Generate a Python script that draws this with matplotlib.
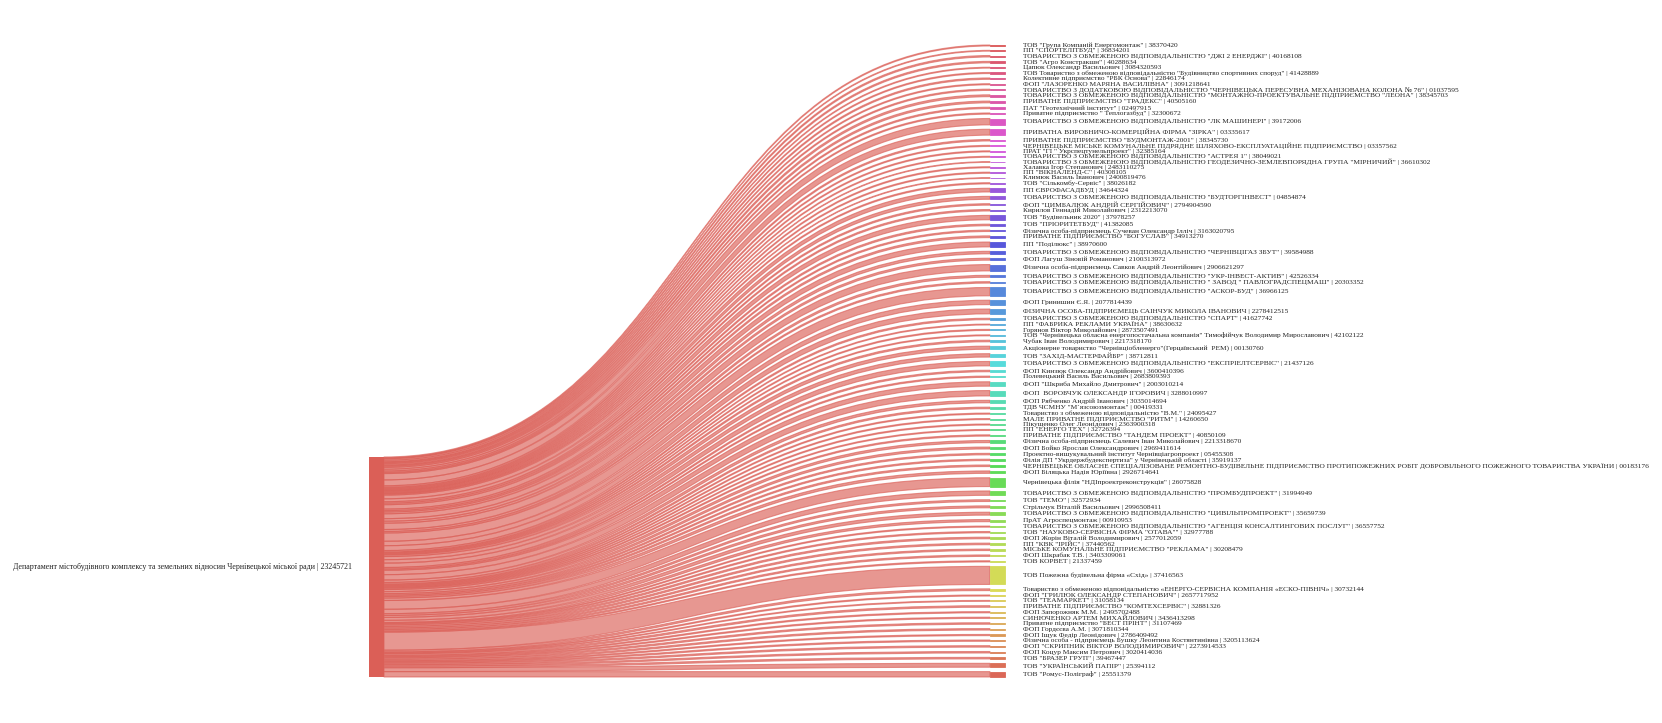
import matplotlib
matplotlib.use("Agg")
import matplotlib.pyplot as plt
from matplotlib.path import Path
from matplotlib.patches import PathPatch, Rectangle
import seaborn as sns

source = "Департамент містобудівного комплексу та земельних відносин Чернівецької міської ради | 23245721"

targets = [
    'ТОВ "Група Компаній Енергомонтаж" | 38370420',
    'ПП "СПОРТЕЛІТБУД" | 36834201',
    'ТОВАРИСТВО З ОБМЕЖЕНОЮ ВІДПОВІДАЛЬНІСТЮ "ДЖІ 2 ЕНЕРДЖІ" | 40168108',
    'ТОВ "Агро Констракшн" | 40288634',
    'Цапюк Олександр Васильович | 3084320593',
    'ТОВ Товариство з обмеженою відповідальністю "Будівництво спортивних споруд" | 41428889',
    'Колективне підприємство "РБК Основа" | 22846174',
    'ФОП "ЛАЗОРЕНКО МАРЯНА ВАСИЛІВНА" | 3091218641',
    'ТОВАРИСТВО З ДОДАТКОВОЮ ВІДПОВІДАЛЬНІСТЮ "ЧЕРНІВЕЦЬКА ПЕРЕСУВНА МЕХАНІЗОВАНА КОЛОНА № 76" | 01037595',
    'ТОВАРИСТВО З ОБМЕЖЕНОЮ ВІДПОВІДАЛЬНІСТЮ "МОНТАЖНО-ПРОЕКТУВАЛЬНЕ ПІДПРИЄМСТВО "ЛЕОНА" | 38345703',
    'ПРИВАТНЕ ПІДПРИЄМСТВО "ТРАДЕКС" | 40505160',
    'ПАТ "Геотехнічний інститут" | 02497915',
    'Приватне підприємство " Теплогазбуд" | 32300672',
    'ТОВАРИСТВО З ОБМЕЖЕНОЮ ВІДПОВІДАЛЬНІСТЮ "ЛК МАШИНЕРІ" | 39172006',
    'ПРИВАТНА ВИРОБНИЧО-КОМЕРЦІЙНА ФІРМА "ЗІРКА" | 03335617',
    'ПРИВАТНЕ ПІДПРИЄМСТВО "БУДМОНТАЖ-2001" | 38345730',
    'ЧЕРНІВЕЦЬКЕ МІСЬКЕ КОМУНАЛЬНЕ ПІДРЯДНЕ ШЛЯХОВО-ЕКСПЛУАТАЦІЙНЕ ПІДПРИЄМСТВО | 03357562',
    'ПРАТ "ГІ " Укрспецтунельпроект" | 32385164',
    'ТОВАРИСТВО З ОБМЕЖЕНОЮ ВІДПОВІДАЛЬНІСТЮ "АСТРЕЯ 1" | 38049021',
    'ТОВАРИСТВО З ОБМЕЖЕНОЮ ВІДПОВІДАЛЬНІСТЮ ГЕОДЕЗИЧНО-ЗЕМЛЕВПОРЯДНА ГРУПА "МІРНИЧИЙ" | 36610302',
    'Халавка Ігор Степанович | 2483110275',
    'ПП "ВІКНАЛЕНД-С" | 40308105',
    'Климюк Василь Іванович | 2400819476',
    'ТОВ "Сількомбу-Сервіс" | 38026182',
    'ПП ЄВРОФАСАДБУД | 34644324',
    'ТОВАРИСТВО З ОБМЕЖЕНОЮ ВІДПОВІДАЛЬНІСТЮ "БУДТОРГІНВЕСТ" | 04854874',
    'ФОП "ЦИМБАЛЮК АНДРІЙ СЕРГІЙОВИЧ" | 2794904590',
    'Кирилов Геннадій Миколайович | 2312213070',
    'ТОВ "Будівельник 2020" | 37978257',
    'ТОВ "ПРІОРИТЕТБУД" | 41382085',
    'Фізична особа-підприємець Сучеван Олександр Ілліч | 3163020795',
    'ПРИВАТНЕ ПІДПРИЄМСТВО "БОГУСЛАВ" | 34913270',
    'ПП "Поділюкс" | 38970600',
    'ТОВАРИСТВО З ОБМЕЖЕНОЮ ВІДПОВІДАЛЬНІСТЮ "ЧЕРНІВЦІГАЗ ЗБУТ" | 39584988',
    'ФОП Лагуш Зіновій Романович | 2100313972',
    'Фізична особа-підприємець Савков Андрій Леонтійович | 2906621297',
    'ТОВАРИСТВО З ОБМЕЖЕНОЮ ВІДПОВІДАЛЬНІСТЮ "УКР-ІНВЕСТ-АКТИВ" | 42526334',
    'ТОВАРИСТВО З ОБМЕЖЕНОЮ ВІДПОВІДАЛЬНІСТЮ " ЗАВОД " ПАВЛОГРАДСПЕЦМАШ" | 20303352',
    'ТОВАРИСТВО З ОБМЕЖЕНОЮ ВІДПОВІДАЛЬНІСТЮ "АСКОР-БУД" | 36966125',
    'ФОП Гринишин Є.Я. | 2077814439',
    'ФІЗИЧНА ОСОБА-ПІДПРИЄМЕЦЬ САІНЧУК МИКОЛА ІВАНОВИЧ | 2278412515',
    'ТОВАРИСТВО З ОБМЕЖЕНОЮ ВІДПОВІДАЛЬНІСТЮ "СПАРТ" | 41627742',
    'ПП "ФАБРИКА РЕКЛАМИ УКРАЇНА" | 38630632',
    'Горянов Віктор Миколайович | 2873507491',
    'ТОВ "Чернівецька обласна енергопостачальна компанія" Тимофійчук Володимир Мирославович | 42102122',
    'Чубак Іван Володимирович | 2217318170',
    'Акціонерне товариство "Чернівціобленерго"(Герцаївський  РЕМ) | 00130760',
    'ТОВ "ЗАХІД-МАСТЕРФАЙБР" | 38712811',
    'ТОВАРИСТВО З ОБМЕЖЕНОЮ ВІДПОВІДАЛЬНІСТЮ "ЕКСПРІЕЛТСЕРВІС" | 21437126',
    'ФОП Кинзюк Олександр Андрійович | 3600410396',
    'Полевецький Василь Васильович | 2683809393',
    'ФОП "Шкриба Михайло Дмитрович" | 2003010214',
    'ФОП  ВОРОБЧУК ОЛЕКСАНДР ІГОРОВИЧ | 3288010997',
    'ФОП Рябченко Андрій Іванович | 3035014694',
    'ТДВ ЧСМНУ "М`язсоюзмонтаж" | 00419331',
    'Товариство з обмеженою відповідальністю "В.М." | 24095427',
    'МАЛЕ ПРИВАТНЕ ПІДПРИЄМСТВО "РИТМ" | 14260650',
    'Пікущенко Олег Леонідович | 2363900318',
    'ПП "ЕНЕРГО ТЕХ" | 32726394',
    'ПРИВАТНЕ ПІДПРИЄМСТВО "ТАНДЕМ ПРОЕКТ" | 40850109',
    'Фізична особа-підприємець Салевич Іван Миколайович | 2213318670',
    'ФОП Бойко Ярослав Олександрович | 2969411614',
    'Проектно-вишукувальний інститут Чернівціагропроект | 05455308',
    'Філія ДП "Укрдержбудекспертиза" у Чернівецькій області | 35919137',
    'ЧЕРНІВЕЦЬКЕ ОБЛАСНЕ СПЕЦІАЛІЗОВАНЕ РЕМОНТНО-БУДІВЕЛЬНЕ ПІДПРИЄМСТВО ПРОТИПОЖЕЖНИХ РОБІТ ДОБРОВІЛЬНОГО ПОЖЕЖНОГО ТОВАРИСТВА УКРАЇНИ | 00183176',
    'ФОП Біляцька Надія Юріївна | 2926714641',
    'Чернівецька філія "НДІпроектреконструкція" | 26075828',
    'ТОВАРИСТВО З ОБМЕЖЕНОЮ ВІДПОВІДАЛЬНІСТЮ "ПРОМБУДПРОЕКТ" | 31994949',
    'ТОВ "ТЕМО" | 32572934',
    'Стрільчук Віталій Васильович | 2996508411',
    'ТОВАРИСТВО З ОБМЕЖЕНОЮ ВІДПОВІДАЛЬНІСТЮ "ЦИВІЛЬПРОМПРОЕКТ" | 35659739',
    'ПрАТ Агроспецмонтаж | 00910953',
    'ТОВАРИСТВО З ОБМЕЖЕНОЮ ВІДПОВІДАЛЬНІСТЮ "АГЕНЦІЯ КОНСАЛТИНГОВИХ ПОСЛУГ" | 36557752',
    'ТОВ "НАУКОВО-СЕРВІСНА ФІРМА "ОТАВА"" | 32977788',
    'ФОП Жорін Віталій Володимирович | 2577012059',
    'ПП "КВК "ІРІЙС" | 37440562',
    'МІСЬКЕ КОМУНАЛЬНЕ ПІДПРИЄМСТВО "РЕКЛАМА" | 30208479',
    'ФОП Шкрабак Т.В. | 3403309061',
    'ТОВ КОРВЕТ | 21337459',
    'ТОВ Пожежна будівельна фірма «Схід» | 37416563',
    'Товариство з обмеженою відповідальністю «ЕНЕРГО-СЕРВІСНА КОМПАНІЯ «ЕСКО-ПІВНІЧ» | 30732144',
    'ФОП "ГРИЛЮК ОЛЕКСАНДР СТЕПАНОВИЧ" | 2657717952',
    'ТОВ "ТЕАМАРКЕТ" | 31058134',
    'ПРИВАТНЕ ПІДПРИЄМСТВО "КОМТЕХСЕРВІС" | 32881326',
    'ФОП Запорожняк М.М. | 2495702488',
    'СИНЮЧЕНКО АРТЕМ МИХАЙЛОВИЧ | 3436413298',
    'Приватне підприємство "БЕСТ ПРІНТ" | 31107469',
    'ФОП Гордєєва А.М. | 3071810344',
    'ФОП Іщук Федір Леонідович | 2786409492',
    'Фізична особа - підприємець Бушку Леонтина Костянтинівна | 3205113624',
    'ФОП "СКРИПНИК ВІКТОР ВОЛОДИМИРОВИЧ" | 2273914533',
    'ФОП Коцур Максим Петрович | 3020414036',
    'ТОВ "БРАЗЕР ГРУП" | 39467447',
    'ТОВ "УКРАЇНСЬКИЙ ПАПІР" | 25394112',
    'ТОВ "Ромус-Поліграф" | 25551379',
]

# flow sizes, estimated from node heights in the picture
values = [
    1.0, 0.8, 1.5, 1.5, 0.9, 1.1, 1.4, 1.1, 1.3, 1.9,
    1.8, 1.4, 1.2, 6.5, 6.0, 1.5, 1.1, 1.1, 1.0, 0.7,
    1.1, 1.1, 0.7, 1.2, 3.8, 3.0, 1.5, 1.5, 4.5, 1.6,
    1.4, 1.8, 5.0, 2.6, 2.0, 6.5, 2.0, 1.5, 8.5, 4.5,
    5.0, 1.5, 0.9, 1.1, 1.0, 1.6, 3.2, 3.5, 4.5, 1.5,
    1.3, 4.5, 5.5, 2.5, 1.6, 1.1, 1.1, 1.1, 1.0, 1.3,
    2.2, 2.0, 1.5, 1.4, 1.6, 2.5, 9.0, 4.5, 1.8, 2.0,
    3.0, 2.2, 1.1, 1.3, 1.6, 1.6, 1.5, 1.5, 1.2, 18.5,
    1.8, 1.1, 0.9, 1.6, 1.2, 1.2, 1.5, 1.5, 1.2, 1.3,
    1.5, 1.5, 1.6, 4.0, 5.5,
]

W, H = 1662, 723
fig = plt.figure(figsize=(W / 100, H / 100), dpi=100)
ax = fig.add_axes([0, 0, 1, 1])
ax.set_xlim(0, W)
ax.set_ylim(H, 0)
ax.axis("off")

# layout (pixels)
src_x0, src_x1 = 369, 384
tgt_x0, tgt_x1 = 990, 1005
src_top, src_h = 457, 220
tgt_top, tgt_bot = 45, 677

n = len(values)
total = sum(values)
k = src_h / total
gap = (tgt_bot - tgt_top - src_h) / (n - 1)

pal = sns.hls_palette(n + 1)
src_col = pal[0]
link_col = (219 / 255, 95 / 255, 87 / 255)
font = "Liberation Serif"
fs = 5.3

xm = (src_x1 + tgt_x0) / 2
sy = src_top
ty = tgt_top
for i, v in enumerate(values):
    h = v * k
    verts = [
        (src_x1, sy), (xm, sy), (xm, ty), (tgt_x0, ty),
        (tgt_x0, ty + h), (xm, ty + h), (xm, sy + h), (src_x1, sy + h),
        (src_x1, sy),
    ]
    codes = [Path.MOVETO, Path.CURVE4, Path.CURVE4, Path.CURVE4,
             Path.LINETO, Path.CURVE4, Path.CURVE4, Path.CURVE4,
             Path.CLOSEPOLY]
    ax.add_patch(PathPatch(Path(verts, codes), facecolor=link_col, alpha=0.65,
                           edgecolor=link_col, linewidth=0.8))
    ax.add_patch(Rectangle((tgt_x0, ty), tgt_x1 - tgt_x0, h,
                           facecolor=pal[n - i], edgecolor=pal[n - i],
                           linewidth=0.6))
    ax.text(tgt_x1 + 18, ty + h / 2, targets[i], fontsize=fs, family=font,
            color="#222222", va="center", ha="left")
    sy += h
    ty += h + gap

ax.add_patch(Rectangle((src_x0, src_top), src_x1 - src_x0, src_h,
                       facecolor=src_col, edgecolor="none"))
ax.text(src_x0 - 17, src_top + src_h / 2, source, fontsize=5.7, family=font,
        color="#222222", va="center", ha="right")

fig.savefig("out.png", dpi=100)
